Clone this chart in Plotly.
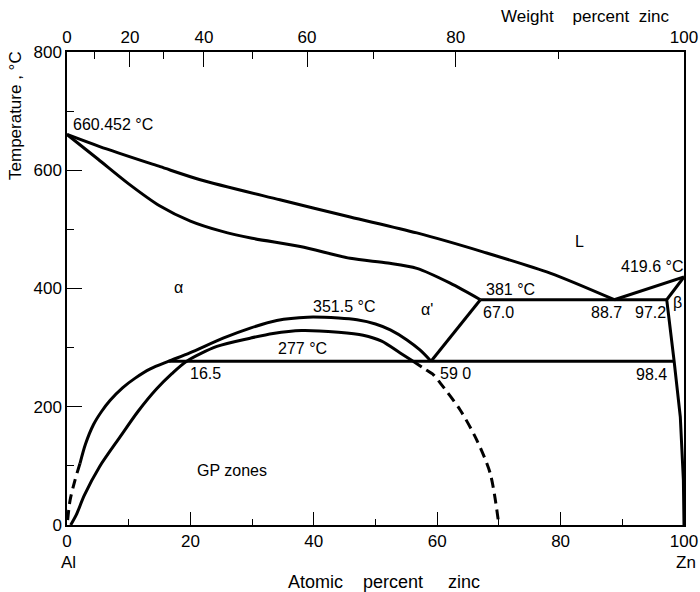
import plotly.graph_objects as go

# ---------------- data (atomic % Zn, temperature °C) ----------------
liq_x = [0, 5.3, 15.1, 21.6, 34.5, 45.9, 56.7, 67.4, 78.3, 88.7]
liq_T = [660.452, 640, 606, 584, 550, 521, 494, 462, 426, 381]

liqb_x = [88.7, 100]
liqb_T = [381, 419.6]

sol_x = [0, 5, 10, 15, 20, 25, 30, 37.8, 45.9, 52, 56.7, 62.1, 67.0]
sol_T = [660.452, 619, 577, 540, 514, 497, 485, 471, 451, 443, 434, 409, 381]

eutectic_x = [67.0, 97.2]
eutectic_T = [381, 381]

monotectoid_x = [16.5, 98.4]
monotectoid_T = [277, 277]

aprime_x = [59.0, 67.0]
aprime_T = [277, 381]

beta_x = [100, 97.2, 98.4, 99.0, 99.4, 99.9, 100]
beta_T = [419.6, 381, 277, 220, 183, 76, 0]

# miscibility gap (critical point 351.5 °C)
gap_x = [2.1, 3.0, 4.3, 5.6, 7.0, 9.0, 11.0, 13.5, 16.5, 19.9, 25.3, 29.7, 34.0, 39.0, 44.0, 47.0, 50.0, 52.4, 55.1, 57.2, 59.0]
gap_T = [104, 137, 170, 192, 211, 232, 248, 264, 277, 291, 316, 333, 346, 351.5, 350, 347, 340, 330, 313, 296, 277]
gap_dash_x = [2.1, 1.3, 0.5, 0.1]
gap_dash_T = [104, 76, 42, 8]

# inner curve (277 °C) and GP-zone solvus
inner_x = [0.6, 1.5, 2.8, 5.3, 8.6, 11.5, 14.5, 17.0, 19.4, 24.3, 29.7, 33.4, 38.0, 44.0, 48.0, 51.0, 54.0, 56.1]
inner_T = [0, 17, 50, 99, 149, 192, 230, 256, 277, 302, 316, 324, 329, 326, 321, 311, 291, 277]
inner_dash_x = [56.1, 57.8, 59.4, 60.5, 63.7, 66.4, 68.6, 70.0]
inner_dash_T = [277, 265, 254, 240, 195, 144, 87, 0]

# axes
at_ticks = [0, 20, 40, 60, 80, 100]
at_minor = [10, 30, 50, 70, 90]
T_ticks = [0, 200, 400, 600, 800]
T_minor = [100, 300, 500, 700]
wt_labels = ["0", "20", "40", "60", "80", "100"]
wt_tick_at = [0, 10.2, 22.2, 38.9, 63.0, 100]      # atomic-% positions of weight-% ticks
wt_minor_at = [4.5, 15.6, 30.1, 49.6, 79.7]        # 10, 30, 50, 70, 90 wt%

# text labels inside the plot: (text, atomic %, T)
labels = [
    ("α", 18.0, 401), ("351.5 °C", 44.9, 370), ("277 °C", 38.2, 298),
    ("16.5", 22.4, 257), ("α'", 58.3, 364), ("381 °C", 71.8, 399),
    ("67.0", 69.9, 359), ("88.7", 87.5, 359), ("97.2", 94.5, 359),
    ("β", 99.0, 376), ("L", 83.1, 479), ("419.6 °C", 94.8, 437),
    ("59 0", 62.9, 257), ("98.4", 94.7, 254), ("GP zones", 26.7, 93),
]

NB = "\u00a0"
# text outside the plot: (text, paper x, paper y, angle, size)
outer_labels = [
    ("Al", 0.003, -0.080, 0, 17),
    ("Zn", 1.003, -0.079, 0, 17),
    ("Atomic" + NB * 4 + "percent" + NB * 5 + "zinc", 0.514, -0.1205, 0, 18),
    ("Weight" + NB * 4 + "percent" + NB * 2 + "zinc", 0.8395, 1.076, 0, 17),
    ("Temperature , °C", -0.0843, 0.8668, -90, 17),
]

FONT = "Liberation Sans"
fig = go.Figure()

def line(x, y, dash="solid"):
    fig.add_trace(go.Scatter(x=x, y=y, mode="lines", showlegend=False, hoverinfo="skip",
                             line=dict(color="black", width=3, dash=dash, shape="spline", smoothing=0.8)))

def straight(x, y):
    fig.add_trace(go.Scatter(x=x, y=y, mode="lines", showlegend=False, hoverinfo="skip",
                             line=dict(color="black", width=3)))

line(liq_x, liq_T)
straight(liqb_x, liqb_T)
line(sol_x, sol_T)
straight(eutectic_x, eutectic_T)
straight(monotectoid_x, monotectoid_T)
straight(aprime_x, aprime_T)
straight(beta_x, beta_T)
line(gap_x, gap_T)
line(gap_dash_x, gap_dash_T, dash="10px,6px")
line(inner_x, inner_T)
line(inner_dash_x, inner_dash_T, dash="10px,6px")

# invisible trace to carry the top axis
fig.add_trace(go.Scatter(x=[0, 100], y=[0, 0], xaxis="x2", mode="markers",
                         marker=dict(opacity=0), showlegend=False, hoverinfo="skip"))

for t, x, y in labels:
    fig.add_annotation(text=t, x=x, y=y, xref="x", yref="y", showarrow=False,
                       xanchor="center", yanchor="middle",
                       font=dict(family=FONT, size=16, color="black"))

fig.add_annotation(text="660.452 °C", x=0.6, y=677, xref="x", yref="y", xanchor="left",
                   yanchor="middle", showarrow=False,
                   font=dict(family=FONT, size=16, color="black"))

for t, x, y, ang, sz in outer_labels:
    fig.add_annotation(text=t, x=x, y=y, xref="paper", yref="paper", textangle=ang,
                       xanchor="center", yanchor="middle", showarrow=False,
                       font=dict(family=FONT, size=sz, color="black"))

axis_common = dict(showgrid=False, zeroline=False, showline=True, linecolor="black",
                   linewidth=1.5, tickcolor="black", tickwidth=1.2, automargin=False,
                   tickfont=dict(family=FONT, size=17, color="black"))

fig.update_layout(
    width=700, height=592,
    margin=dict(l=67, r=16, t=52, b=67),
    paper_bgcolor="white", plot_bgcolor="white",
    xaxis=dict(range=[0, 100], tickmode="array", tickvals=at_ticks,
               ticktext=[str(v) for v in at_ticks], ticks="inside", ticklen=13,
               minor=dict(tickmode="array", tickvals=at_minor, ticks="inside", ticklen=6,
                          tickcolor="black", tickwidth=1.2),
               **axis_common),
    xaxis2=dict(range=[0, 100], overlaying="x", side="top", tickmode="array",
                tickvals=wt_tick_at, ticktext=wt_labels, ticks="inside", ticklen=15,
                minor=dict(tickmode="array", tickvals=wt_minor_at, ticks="inside", ticklen=7,
                           tickcolor="black", tickwidth=1.2),
                **axis_common),
    yaxis=dict(range=[0, 800], tickmode="array", tickvals=T_ticks,
               ticktext=[str(v) for v in T_ticks], ticks="inside", ticklen=15, mirror=True,
               minor=dict(tickmode="array", tickvals=T_minor, ticks="inside", ticklen=7,
                          tickcolor="black", tickwidth=1.2),
               **axis_common),
)

# remove the default page margin so the 700x592 figure fills the window exactly
page_js = ("document.body.style.margin='0';document.body.style.padding='0';"
           "document.documentElement.style.overflow='hidden';document.body.style.overflow='hidden';")
fig.write_html("out.html", post_script=page_js, config={"displayModeBar": False})
